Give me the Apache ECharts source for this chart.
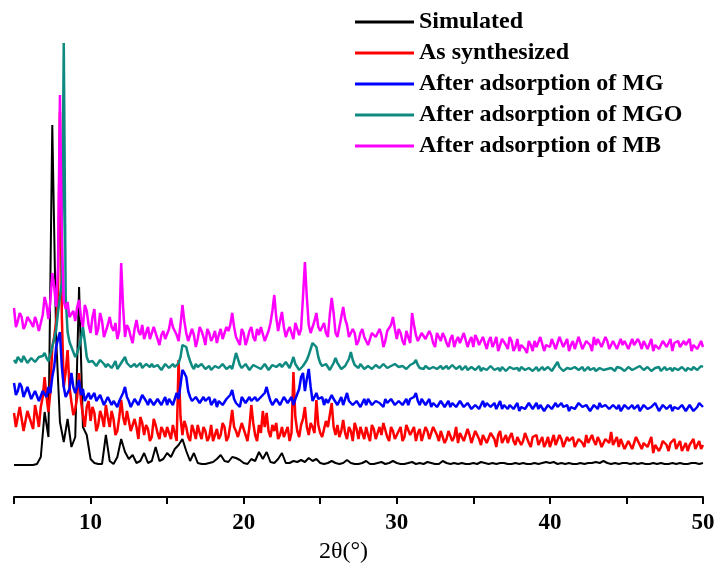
<!DOCTYPE html>
<html><head><meta charset="utf-8">
<script src="https://cdn.jsdelivr.net/npm/echarts@6/dist/echarts.min.js"></script>
<style>html,body{margin:0;padding:0;background:#fff}#c{width:718px;height:569px}</style>
</head><body><div id="c"></div>
<script>
// 2θ sampling: main points at 5°, 5.25° … 50° (181); mid points at 5.125°, 5.375° … 49.875° (180)
var thetaStart = 5, thetaStep = 0.25;
var seriesNames = ['Simulated','As synthesized','After adsorption of MG','After adsorption of MGO','After adsorption of MB'];
var seriesColors = ['#000000','#ff0000','#0000ff','#0f8a80','#ff00ff'];
var xTicks = [10,20,30,40,50];

// intensities (stacked offsets, arbitrary units), 4 values per degree
var simulated = [
32,32,32,32, 32,32,33,40, 85,60,372,160, 75,55,78,50, 60,210,70,62,
38,34,33,33, 62,36,33,40, 58,45,38,42, 34,36,44,34, 36,50,36,38,
44,40,48,52, 58,46,36,44, 34,33,33,34, 35,38,42,36, 35,40,39,37,
34,33,38,36, 45,38,45,35, 34,38,44,34, 34,36,35,37, 35,39,36,38,
34,33,34,36, 34,33,34,37, 34,33,33,34, 36,33,33,34, 35,33,34,36,
34,33,33,34, 35,33,34,33, 35,34,33,33, 36,34,33,34, 33,34,33,33,
34,33,35,34, 33,34,33,34, 34,33,33,34, 33,34,33,33, 34,33,34,35,
34,35,33,34, 33,34,33,33, 34,33,34,34, 35,34,36,34, 33,34,33,34,
34,33,34,33, 34,33,33,34, 33,34,33,33, 34,33,34,33, 33,34,34,33,
34];
var simulatedMid = [];

var asSynthesized = [
84,72,88,76, 80,68,82,90, 120,85,150,175, 385,110,147,95, 88,124,82,90,
76,84,72,80, 92,70,78,66, 97,72,76,64, 70,80,62,68, 60,72,58,66,
70,58,64,137, 62,70,56,66, 72,58,66,60, 56,68,62,70, 60,87,66,58,
68,56,92,62, 72,86,84,60, 66,58,70,62, 56,125,66,72, 90,62,70,97,
64,68,70,94, 62,60,77,58, 66,74,58,64, 70,56,68,60, 62,72,56,66,
58,70,60,74, 62,56,68,58, 66,60,72,56, 64,58,68,60, 54,66,58,62,
60,68,52,64, 56,62,50,66, 58,54,64,52, 60,56,62,50, 58,52,60,54,
50,62,54,58, 48,56,60,52, 58,50,54,62, 52,56,48,58, 65,54,50,56,
46,54,50,58, 48,56,52,44, 54,50,58,46, 52,48,56,50, 46,54,48,56,
52];
var asSynthesizedMid = [
70,90,66,86, 74,92,70,100, 100,105,160,200, 180,125,110,82, 100,96,70,96,
90,66,86,70, 80,86,62,80, 80,86,66,78, 58,74,72,56, 78,64,70,60,
64,72,56,80, 76,60,72,58, 64,70,56,72, 62,58,74,56, 72,70,60,74,
62,70,74,56, 64,70,66,72, 74,62,60,70, 64,80,60,78, 70,74,64,72,
60,76,72,70, 72,66,64,70, 56,68,70,58, 62,72,58,70, 74,60,70,58,
66,56,72,62, 70,64,56,70, 58,70,62,66, 54,66,56,70, 64,56,68,54,
66,58,62,54, 64,58,62,54, 62,60,56,60, 52,64,54,60, 62,56,50,60,
56,52,62,50, 60,54,50,58, 54,62,52,56, 60,50,58,54, 52,60,58,48,
56,48,60,52, 54,50,60,52, 46,56,52,54, 58,52,46,54, 52,58,50,48];

var afterMG = [
114,106,110,102, 108,100,104,98, 104,110,120,150, 165,110,98,124, 104,117,108,100,
98,104,94,100, 92,98,96,90, 100,110,96,92, 98,94,100,92, 96,90,98,94,
92,100,94,98, 127,120,100,94, 98,92,96,100, 94,90,98,92, 96,107,94,90,
98,92,96,100, 94,98,110,96, 92,100,94,98, 96,92,100,120, 106,128,96,104,
96,92,94,102, 98,96,92,104, 96,90,98,94, 92,96,90,98, 94,98,92,96,
90,98,94,92, 96,104,92,98, 94,90,96,92, 96,92,90,94, 92,96,90,94,
88,94,92,90, 94,90,88,96, 92,88,94,90, 86,92,90,94, 90,88,92,86,
92,88,90,94, 88,86,92,90, 94,88,90,86, 90,94,88,92, 86,90,92,88,
90,86,88,92, 88,92,86,90, 92,88,90,86, 86,90,88,92, 88,92,86,94,
90];
var afterMGMid = [
102,114,100,110, 98,106,96,106, 100,104,130,158, 130,100,108,110, 110,102,96,104,
100,96,102,92, 100,92,98,96, 104,100,90,98, 92,102,96,98, 92,98,92,100,
98,92,104,112, 124,106,96,100, 94,100,98,92, 98,96,92,98, 102,98,96,100,
94,100,94,96, 100,104,102,92, 98,92,100,94, 100,98,108,124, 118,110,100,98,
100,98,96,98, 92,100,98,96, 92,96,90,98, 98,92,96,94, 90,94,98,92,
96,92,98,98, 100,96,98,92, 98,94,90,96, 90,96,94,90, 96,90,94,88,
92,88,96,94, 90,94,92,88, 94,92,88,94, 90,88,94,88, 94,92,86,92,
88,94,88,90, 92,90,88,94, 90,92,86,92, 88,90,92,88, 92,88,86,92,
88,92,90,86, 92,88,90,94, 86,92,88,92, 90,88,92,86, 92,86,90,92];

var afterMGO = [
137,140,135,139, 136,141,134,138, 144,136,150,167, 200,454,165,150, 140,150,170,140,
134,138,132,136, 130,135,132,128, 134,140,132,128, 130,134,128,132, 133,128,131,129,
132,128,130,134, 152,150,136,128, 130,133,128,131, 129,132,128,131, 130,128,144,132,
128,131,129,133, 130,127,131,129, 132,128,130,135, 129,140,131,128, 133,142,154,150,
134,129,131,128, 139,131,128,133, 145,132,129,131, 128,130,127,131, 129,132,128,130,
135,128,130,127, 131,137,129,128, 130,127,131,129, 128,131,127,130, 129,127,131,128,
130,128,126,131, 127,130,128,126, 129,127,131,128, 126,129,127,130, 128,126,130,127,
129,127,135,128, 127,130,126,129, 128,126,130,127, 126,129,127,128, 129,126,128,130,
127,129,126,128, 130,127,129,126, 128,126,130,127, 126,129,127,128, 129,127,130,128,
130];
var afterMGOMid = [
134,138,141,134, 139,135,140,141, 139,142,158,185, 215,200,155,145, 144,158,156,135,
136,131,137,133, 133,129,136,131, 137,134,130,133, 132,129,133,130, 130,132,127,133,
129,133,131,140, 154,142,131,133, 128,131,130,127, 131,129,133,128, 131,136,138,129,
133,127,132,130, 128,133,127,132, 130,133,129,132, 134,133,127,131, 137,148,152,140,
131,133,127,134, 134,128,131,138, 137,130,133,128, 131,128,132,129, 133,129,131,133,
130,131,128,132, 134,132,127,131, 128,130,128,131, 130,128,132,128, 131,129,127,130,
127,131,129,127, 131,127,129,130, 126,130,128,129, 130,127,129,126, 130,128,127,130,
126,132,130,126, 129,128,130,127, 130,128,127,129, 128,130,126,130, 127,130,129,126,
130,127,129,131, 127,130,126,129, 130,128,127,129, 129,127,130,126, 128,130,127,131];

var afterMB = [
189,176,180,172, 178,170,174,168, 200,178,224,190, 402,196,195,178, 176,197,170,186,
164,188,168,176, 160,180,166,158, 234,160,168,154, 177,162,158,170, 156,164,152,166,
160,179,168,156, 192,164,154,162, 158,166,152,164, 160,154,168,158, 166,184,160,152,
164,158,170,156, 162,168,158,174, 202,166,185,160, 170,158,176,168, 235,172,162,184,
166,174,160,199, 164,170,190,172, 158,164,156,168, 160,154,166,158, 162,156,168,180,
158,164,152,160, 184,162,154,166, 156,162,150,160, 164,154,158,150, 160,152,162,156,
150,158,154,162, 156,150,160,152, 158,148,156,150, 146,154,144,152, 156,148,158,152,
150,156,148,158, 152,146,156,150, 158,150,154,146, 152,158,148,156, 150,154,146,152,
156,148,152,158, 148,154,150,146, 154,150,156,148, 146,152,150,156, 150,146,154,152,
150];
var afterMBMid = [
170,184,168,180, 174,180,166,182, 192,196,210,230, 260,188,180,186, 190,180,192,172,
180,162,184,160, 172,170,174,166, 190,172,160,168, 166,172,164,158, 170,158,162,158,
168,170,162,172, 176,156,168,150, 170,160,168,156, 166,162,158,170, 172,170,156,168,
152,166,160,168, 170,156,166,186, 180,176,170,166, 164,174,162,200, 200,164,176,170,
170,164,182,184, 160,180,178,160, 168,152,164,160, 152,164,160,168, 150,166,172,168,
168,156,166,154, 172,156,164,158, 166,154,164,156, 160,150,162,156, 154,164,150,160,
162,152,160,148, 160,154,146,158, 152,160,146,158, 152,148,156,146, 150,160,146,154,
158,148,160,150, 158,152,148,160, 148,156,152,160, 158,150,160,148, 156,148,158,156,
148,158,150,154, 156,148,158,152, 148,156,150,158, 154,156,148,152, 158,152,148,156];

var mainValues = [simulated, asSynthesized, afterMG, afterMGO, afterMB];
var midValues = [simulatedMid, asSynthesizedMid, afterMGMid, afterMGOMid, afterMBMid];

function pairs(vals, mids){
  var out = [];
  for (var i = 0; i < vals.length; i++) {
    out.push([thetaStart + i*thetaStep, vals[i]]);
    if (i < mids.length) out.push([thetaStart + (i + 0.5)*thetaStep, mids[i]]);
  }
  return out;
}

var chart = echarts.init(document.getElementById('c'), null, {renderer:'canvas'});
var series = mainValues.map(function(vals, k){
  return {
    name: seriesNames[k], type:'line', data: pairs(vals, midValues[k]), showSymbol:false, symbol:'none',
    lineStyle:{color: seriesColors[k], width: k === 0 ? 2 : 2.5}, itemStyle:{color: seriesColors[k]},
    z: 2 + k, animation:false
  };
});
chart.setOption({
  animation:false,
  grid:{left:14, right:15, top:17, bottom:69},
  legend:{
    data: seriesNames, orient:'vertical', left:355, top:10, padding:0,
    icon:'rect', itemWidth:59, itemHeight:3, itemGap:7,
    textStyle:{fontFamily:'Liberation Serif', fontWeight:'bold', fontSize:24, lineHeight:24, color:'#000'}
  },
  xAxis:{
    type:'value', min:5, max:50, interval:5,
    name:'2θ(°)', nameLocation:'middle', nameGap:39,
    nameTextStyle:{fontFamily:'Liberation Serif', fontSize:24, color:'#000', padding:[0,30,0,0]},
    axisLine:{show:true, lineStyle:{color:'#000', width:2}},
    axisTick:{show:true, inside:false, length:7, lineStyle:{color:'#000', width:2}},
    axisLabel:{margin:12, fontFamily:'Liberation Serif', fontWeight:'bold', fontSize:23, color:'#000',
      formatter:function(v){ return xTicks.indexOf(v) >= 0 ? String(v) : ''; }},
    splitLine:{show:false}
  },
  yAxis:{type:'value', min:-3, max:480, show:false, splitLine:{show:false}},
  series: series
});
</script></body></html>
